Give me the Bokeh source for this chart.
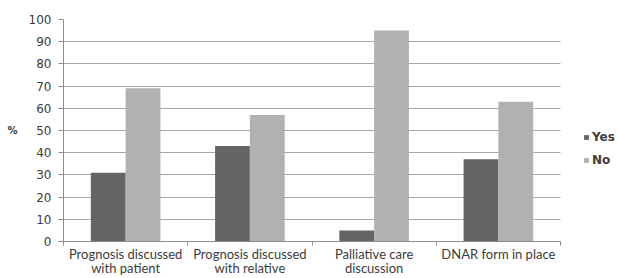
from bokeh.plotting import figure
from bokeh.models import (Range1d, LinearAxis, FixedTicker, Legend, LegendItem, ColumnDataSource)
from bokeh.transform import dodge
from bokeh.embed import file_html
from bokeh.resources import INLINE

categories = ["Prognosis discussed\nwith patient", "Prognosis discussed\nwith relative",
              "Palliative care\ndiscussion", "DNAR form in place"]
yes_vals = [31, 43, 5, 37]
no_vals = [69, 57, 95, 63]
y_ticks = [0, 10, 20, 30, 40, 50, 60, 70, 80, 90, 100]

TXT = "#3c3c3c"
FONT = "Lato"
NUMFONT = "DejaVu Sans"
AXC = "#8c8c8c"

n = len(categories)
centers = [i + 0.5 for i in range(n)]
edges = list(range(n + 1))
src = ColumnDataSource(dict(x=centers, yes=yes_vals, no=no_vals))

# frame spans to the right edge so the legend can sit inside it; data occupy 0..n
p = figure(width=617, height=278, x_range=Range1d(0, n * 554 / 497), y_range=Range1d(0, 100),
           output_backend="svg", toolbar_location=None,
           x_axis_location=None, y_axis_location=None,
           min_border_left=63, min_border_right=0, min_border_top=19, min_border_bottom=37)
p.outline_line_color = None
p.xgrid.grid_line_color = None
p.ygrid.grid_line_color = "#a6a6a6"
p.ygrid.grid_line_width = 1
p.ygrid.ticker = FixedTicker(ticks=y_ticks)
p.ygrid.cross_bounds = (0, n)

r_yes = p.vbar(x=dodge("x", -0.14), top="yes", width=0.28, source=src,
               fill_color="#646464", line_color=None)
r_no = p.vbar(x=dodge("x", 0.14), top="no", width=0.28, source=src,
              fill_color="#b1b1b3", line_color=None)

yax = LinearAxis(ticker=FixedTicker(ticks=y_ticks), axis_label="%",
                 axis_label_orientation="horizontal")
yax.axis_line_color = AXC
yax.major_tick_line_color = AXC
yax.major_tick_out = 5
yax.major_tick_in = 0
yax.minor_tick_line_color = None
yax.major_label_text_font = NUMFONT
yax.major_label_text_font_size = "12px"
yax.major_label_text_color = TXT
yax.major_label_standoff = 7
yax.axis_label_text_font = NUMFONT
yax.axis_label_text_font_size = "10px"
yax.axis_label_text_font_style = "bold"
yax.axis_label_text_color = TXT
yax.axis_label_standoff = 8
p.add_layout(yax, "left")

# category labels at the centres, tick marks (minor) at the category edges
xax = LinearAxis(ticker=FixedTicker(ticks=centers, minor_ticks=edges), bounds=(0, n),
                 major_label_overrides={c: lab for c, lab in zip(centers, categories)})
xax.axis_line_color = AXC
xax.major_tick_line_color = None
xax.major_tick_out = 0
xax.major_tick_in = 0
xax.minor_tick_line_color = AXC
xax.minor_tick_out = 4
xax.minor_tick_in = 0
xax.major_label_text_font = FONT
xax.major_label_text_font_size = "13px"
xax.major_label_text_line_height = 0.88
xax.major_label_text_color = TXT
xax.major_label_standoff = 0
p.add_layout(xax, "below")

legend = Legend(items=[LegendItem(label="Yes", renderers=[r_yes]),
                       LegendItem(label="No", renderers=[r_no])],
                location=(520, 74), glyph_width=6, glyph_height=6, label_standoff=3,
                spacing=9, padding=0, margin=0, border_line_color=None,
                background_fill_alpha=0, label_text_font=NUMFONT, label_text_font_size="12px",
                label_text_font_style="bold", label_text_color=TXT)
p.add_layout(legend, "center")

open("out.html", "w").write(file_html(p, INLINE))
